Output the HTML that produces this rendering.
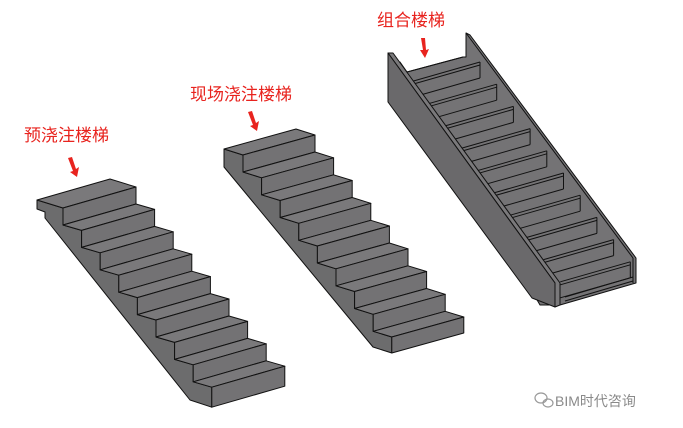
<!DOCTYPE html>
<html><head><meta charset="utf-8"><style>
html,body{margin:0;padding:0;background:#fff;}
#wrap{position:relative;width:683px;height:428px;overflow:hidden;}
.lbl{position:absolute;color:#e8231e;font-family:"Liberation Sans","Noto Sans CJK SC",sans-serif;font-size:17px;line-height:20px;white-space:nowrap;}
.wm{position:absolute;color:#8a8a8a;font-family:"Liberation Sans","Noto Sans CJK SC",sans-serif;font-size:14px;left:555px;top:391px;}
</style></head><body><div id="wrap">
<svg id="s" width="683" height="428" viewBox="0 0 683 428" xmlns="http://www.w3.org/2000/svg" style="position:absolute;left:0;top:0"></svg>
<div class="lbl" style="left:24px;top:126px">预浇注楼梯</div>
<div class="lbl" style="left:190px;top:85px">现场浇注楼梯</div>
<div class="lbl" style="left:377px;top:11px">组合楼梯</div>
<div class="wm">BIM时代咨询</div>
</div>
<script>
var s=document.getElementById('s'),out='';
function P(pts,fill,sw){out+='<polygon points="'+pts.map(function(p){return p[0].toFixed(1)+','+p[1].toFixed(1)}).join(' ')+'" fill="'+fill+'" stroke="#111" stroke-width="'+(sw||1)+'" stroke-linejoin="round"/>';}
function L(a,b,c){out+='<line x1="'+a[0].toFixed(1)+'" y1="'+a[1].toFixed(1)+'" x2="'+b[0].toFixed(1)+'" y2="'+b[1].toFixed(1)+'" stroke="'+(c||'#111')+'" stroke-width="1"/>';}
function add(a,b){return [a[0]+b[0],a[1]+b[1]];}
function stair(N0,step,rise,lastRise,b,landBack,sideStart,under){
  var N=[];for(var k=0;k<9;k++)N.push([N0[0]+step[0]*k,N0[1]+step[1]*k]);
  var side=sideStart.concat(under);
  side.push(add(N[8],[0,lastRise]));side.push(N[8]);
  for(var k=7;k>=0;k--){side.push(add(N[k],[0,rise]));side.push(N[k]);}
  P(side,'#6c6c6d');
  P([landBack,add(landBack,b),add(N[0],b),N[0]],'#7a797b');
  for(var k=0;k<9;k++){
    var h=(k==8)?lastRise:rise;
    var a=N[k],c=add(a,[0,h]);
    P([a,add(a,b),add(c,b),c],'#737274');
    if(k<8){P([c,add(c,b),add(N[k+1],b),N[k+1]],'#7a797b');}
  }
}
stair([63,208],[18.6,22.4],17,20,[73,-21],[37,200],[[37,200],[37,209],[45,212],[45,218]],[[190,400]]);
stair([243,155],[18.6,22.75],17,16,[72,-20],[224,149],[[224,149],[224,167]],[[373,347]]);
// stair 3 background region (steps + right stringer inner face)
P([[400,62],[407,72],[463,57],[466,57],[466,33],[470,35],[636,258],[636,283],[560,305],[540,305]],'#747375');
L([466,33],[633,258]);L([466,33],[466,57]);L([633,258],[633,283]);
L([407,72],[463,57]);
var b=[-70,20];
for(var k=0;k<10;k++){
  var R=[480+16.7*k,62+22.2*k];
  var L0=add(R,b);
  L(L0,R);L(add(L0,[0,3]),add(R,[0,3]));
  L(R,add(R,[0,16]));
  L(add(R,[0,16]),add(add(R,[0,16]),b));
}
L([565,301],[633,281]);L([565,297],[633,277]);
// left stringer on top
P([[388,53],[393,53],[560,283],[560,305],[555,307],[555,283]],'#7a797b');
P([[388,53],[555,283],[555,307],[532,298],[388,102]],'#6a696b');
s.innerHTML=out+
'<g fill="#e8231e"><polygon points="68,158 72,157 76,169 79,167 77,177 70,172 73,171"/>'+
'<polygon points="248,112 252,111 256,123 259,121 257,131 250,126 253,125"/>'+
'<polygon points="421,38 425,38 426,50 429,49 425,58 420,50 423,50"/></g>'+
'<g fill="none" stroke="#999" stroke-width="1.2"><ellipse cx="541" cy="398" rx="6" ry="5"/><ellipse cx="548" cy="403" rx="5" ry="4"/></g>';
</script>
</body></html>
